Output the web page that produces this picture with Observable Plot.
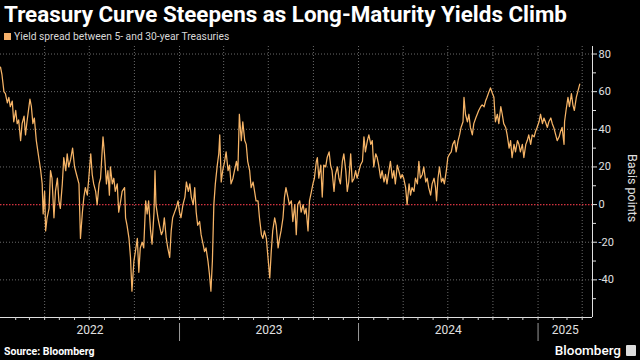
<!DOCTYPE html>
<html>
<head>
<meta charset="utf-8">
<script src="https://cdn.jsdelivr.net/npm/d3@7"></script>
<script src="https://cdn.jsdelivr.net/npm/@observablehq/plot@0.6"></script>
<style>
  html, body { margin: 0; padding: 0; background: #000; }
  body { width: 640px; height: 360px; overflow: hidden; position: relative; font-family: Roboto, "Liberation Sans", sans-serif; color: #fff; }
  #title { position: absolute; left: 4px; top: 2px; font-weight: 700; font-size: 22.4px; line-height: 24px; white-space: nowrap; }
  #subtitle { position: absolute; left: 4px; top: 31px; font-size: 10.3px; line-height: 12px; color: #d8d8d8; white-space: nowrap; }
  #subtitle .sw { display: inline-block; width: 7px; height: 7px; background: #f5b06a; margin-right: 3px; vertical-align: 0px; }
  #chart { position: absolute; left: 0; top: 44px; }
  #source { position: absolute; left: 4px; top: 346px; font-weight: 700; font-size: 10.5px; line-height: 12px; color: #fff; }
  #brand { position: absolute; right: 4px; top: 343px; font-size: 13.5px; line-height: 15px; font-weight: 500; color: #fff; display: flex; align-items: center; }
  #brand .logo { display: inline-block; width: 10px; height: 11px; background: #ddd; margin-left: 5px; border-radius: 1px; }
</style>
</head>
<body>
<div id="title">Treasury Curve Steepens as Long-Maturity Yields Climb</div>
<div id="subtitle"><span class="sw"></span>Yield spread between 5- and 30-year Treasuries</div>
<div id="chart"></div>
<div id="source">Source: Bloomberg</div>
<div id="brand">Bloomberg<span class="logo"></span></div>
<script>
// x: days since the start date, y: spread in basis points
const startDate = "2022-01-01";
const endDate = "2025-04-22";
const dayOffsets = [
  0,3,7,10,14,17,20,24,27,31,34,37,41,44,48,51,54,60,63,66,69,73,78,82,85,87,90,92,95,99,
  102,105,109,112,116,119,122,126,129,133,136,139,143,147,151,155,160,163,167,170,173,177,180,184,187,190,194,197,201,204,
  209,212,216,219,222,224,228,231,234,238,241,245,248,253,255,258,262,265,268,272,275,279,282,285,289,292,296,299,302,306,
  309,313,315,317,321,324,328,331,334,338,341,345,348,351,355,358,362,365,368,372,376,379,383,386,389,393,396,399,402,406,
  409,413,416,419,423,426,429,432,435,438,442,445,447,450,453,457,460,464,467,470,474,477,481,484,487,491,494,498,501,504,
  508,511,515,518,521,525,528,532,535,538,542,545,549,552,555,559,562,566,569,572,576,579,582,586,589,593,596,600,603,606,610,
  613,617,620,623,627,630,634,637,640,644,646,649,653,656,659,663,666,670,673,676,680,683,687,690,693,697,700,704,707,710,
  714,717,721,724,727,731,734,738,741,744,748,751,755,758,761,765,768,771,775,778,782,785,788,792,795,799,802,805,809,812,
  816,819,822,826,829,833,836,839,843,846,850,853,856,860,863,867,870,873,877,880,884,887,889,892,895,899,902,905,909,912,
  916,919,922,926,929,933,936,939,943,945,948,952,955,958,962,965,969,972,975,979,982,986,989,992,996,999,1003,1006,1009,1013,
  1016,1020,1023,1026,1030,1033,1037,1040,1043,1047,1050,1054,1057,1060,1064,1067,1071,1074,1077,1081,1084,1088,1091,1094,1098,1101,
  1105,1108,1111,1115,1118,1122,1125,1128,1132,1135,1139,1142,1145,1149,1150,1153,1157,1160,1164,1167,1170,1174,1177,1181
];
const spreadBp = [
  73,69,60,59,54,57,52,55,44,50,43,45,34,43,47,37,44,56,52,43,46,34,25,18,11,-5,7,-14,-7,-2,
  18,14,-7,7,14,2,-2,11,25,18,27,20,24,30,20,16,11,-18,-4,4,9,5,14,27,16,11,7,0,11,14,
  36,27,11,18,5,20,11,14,7,11,-4,2,7,9,-7,-11,-18,-28,-46,-30,-25,-18,-36,-23,-20,-23,2,-5,2,-14,
  -21,-4,18,0,-7,-11,-16,-14,-7,-18,-23,-28,-14,-7,-4,-2,2,-4,-7,0,4,12,7,11,4,0,9,-4,-11,-9,
  -16,-21,-25,-23,-30,-37,-46,-30,0,11,21,27,37,12,18,23,28,18,21,11,14,18,23,18,48,34,44,34,32,23,
  18,9,12,7,2,2,-7,-16,-18,-14,-18,-27,-39,-25,-14,-7,-11,-23,-18,-14,-7,4,9,4,0,2,-9,0,-16,0,2,
  -4,0,-5,-2,-14,2,7,11,14,23,25,14,21,4,21,20,25,28,21,18,7,16,20,14,11,23,27,18,7,12,
  27,12,14,18,14,18,21,23,36,28,34,37,32,34,20,27,25,21,14,18,12,16,11,18,23,14,18,11,21,18,
  14,16,14,9,0,11,5,9,7,14,11,23,14,16,20,12,14,9,5,11,14,9,2,14,20,12,14,11,18,25,
  27,28,32,34,28,34,37,41,44,57,48,44,48,41,37,43,46,48,50,52,53,52,55,57,60,62,59,57,44,48,
  43,52,48,43,41,37,30,34,25,32,28,34,32,28,32,25,32,34,37,32,37,36,39,41,44,48,
  43,46,44,41,44,46,43,41,37,34,36,39,41,32,44,50,57,52,59,53,50,57,60,64
];
const yearLabels = ["2022", "2023", "2024", "2025"];
const yTickValues = [-40, -20, 0, 20, 40, 60, 80];
const yMinorTickValues = [-50, -30, -10, 10, 30, 50, 70];
const axisLabel = "Basis points";

const start = new Date(startDate + "T00:00:00Z");
const end = new Date(endDate + "T00:00:00Z");
const data = dayOffsets.map((d, i) => ({date: d3.utcDay.offset(start, d), value: spreadBp[i]}));

const monthTicks = d3.utcMonth.range(d3.utcMonth.offset(start, 1), end);
const quarterTicks = d3.utcMonth.every(3).range(d3.utcMonth.offset(start, 1), end);
const yearStarts = yearLabels.slice(1).map(y => new Date(y + "-01-01T00:00:00Z"));
const labelDate = (y) => {
  const a = new Date(y + "-01-01T00:00:00Z");
  const b = new Date((+y + 1) + "-01-01T00:00:00Z");
  const lo = a < start ? start : a;
  const hi = b > end ? end : b;
  return new Date((+lo + +hi) / 2);
};

const chart = Plot.plot({
  width: 640,
  height: 300,
  marginTop: 2,
  marginBottom: 27,
  marginLeft: 0,
  marginRight: 48,
  style: {background: "#000", color: "#ddd", fontFamily: "Roboto, 'Liberation Sans', sans-serif", fontSize: "11px", overflow: "visible"},
  x: {type: "utc", domain: [start, end]},
  y: {domain: [-60, 84]},
  marks: [
    Plot.gridY(yTickValues, {stroke: "#6a6a6a", strokeOpacity: 1, strokeDasharray: "1,2"}),
    Plot.gridX(quarterTicks, {stroke: "#6a6a6a", strokeOpacity: 1, strokeDasharray: "1,2"}),
    Plot.ruleY([0], {stroke: "#d3323f", strokeWidth: 1.3, strokeDasharray: "1.5,1.5"}),
    Plot.line(data, {x: "date", y: "value", stroke: "#f6b467", strokeWidth: 1.25}),
    Plot.ruleY([-60], {stroke: "#e0e0e0", strokeWidth: 1}),
    Plot.ruleX([end], {stroke: "#e0e0e0", strokeWidth: 1}),
    Plot.axisY(yTickValues, {anchor: "right", tickSize: 4, tickPadding: 2, tickFormat: d => String(d), label: null, stroke: "#e0e0e0", fill: "#e0e0e0", fontSize: 11}),
    Plot.axisY(yMinorTickValues, {anchor: "right", tickSize: 3, tickFormat: () => "", label: null, stroke: "#e0e0e0"}),
    Plot.axisX(monthTicks, {anchor: "bottom", tickSize: 3, tickFormat: () => "", label: null, stroke: "#d0d0d0"}),
    Plot.axisX(yearStarts, {anchor: "bottom", tickSize: 18, tickFormat: () => "", label: null, stroke: "#9a9a9a", dy: 6}),
    Plot.text(yearLabels, {x: d => labelDate(d), text: d => d, frameAnchor: "bottom", dy: 16, fill: "#e0e0e0", fontSize: 12}),
    Plot.text([axisLabel], {frameAnchor: "right", textAnchor: "middle", rotate: 90, dx: 39, dy: 6, fill: "#e0e0e0", fontSize: 12.5})
  ]
});
document.getElementById("chart").appendChild(chart);
</script>
</body>
</html>
